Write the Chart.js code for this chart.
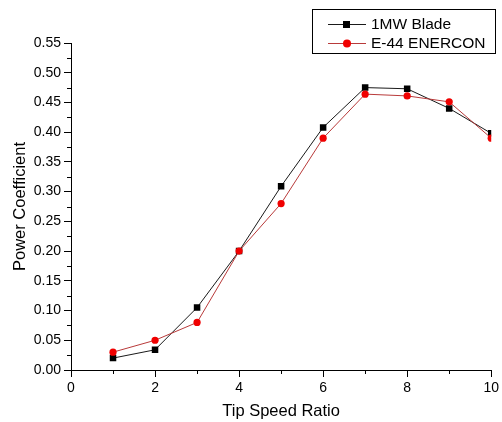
<!DOCTYPE html>
<html>
<head>
<meta charset="utf-8">
<script src="https://cdn.jsdelivr.net/npm/chart.js@4.4.1/dist/chart.umd.min.js"></script>
<style>
  body { margin: 0; background: #fff; }
  canvas { display: block; }
</style>
</head>
<body>
<canvas id="cpChart" width="502" height="422"></canvas>
<script>
// tip speed ratio vs power coefficient
const tsr = [1, 2, 3, 4, 5, 6, 7, 8, 9, 10];
const bladeCp = [0.020, 0.034, 0.105, 0.200, 0.309, 0.408, 0.475, 0.473, 0.440, 0.398];
const enerconCp = [0.030, 0.050, 0.080, 0.200, 0.280, 0.390, 0.464, 0.461, 0.451, 0.390];
const seriesNames = ['1MW Blade', 'E-44 ENERCON'];

const FONT = '"Liberation Sans", Arial, sans-serif';

// small outward minor ticks on both axes
const minorTicks = {
    id: 'minorTicks',
    afterDraw(chart) {
        const ctx = chart.ctx;
        const x = chart.scales.x, y = chart.scales.y;
        const area = chart.chartArea;
        ctx.save();
        ctx.strokeStyle = '#000';
        ctx.lineWidth = 1;
        ctx.beginPath();
        for (let v = 1; v < 10; v += 2) {
            const px = Math.round(x.getPixelForValue(v)) + 0.5;
            ctx.moveTo(px, area.bottom);
            ctx.lineTo(px, area.bottom + 4);
        }
        for (let i = 1; i < 22; i += 2) {
            const py = Math.round(y.getPixelForValue(i * 0.025)) + 0.5;
            ctx.moveTo(area.left, py);
            ctx.lineTo(area.left - 4, py);
        }
        ctx.stroke();
        ctx.restore();
    }
};

// boxed legend in the top right corner
const boxLegend = {
    id: 'boxLegend',
    afterDraw(chart) {
        const ctx = chart.ctx;
        ctx.save();
        ctx.strokeStyle = '#000';
        ctx.lineWidth = 1;
        ctx.strokeRect(312.5, 9.5, 183, 44);
        const rows = [24, 43];
        chart.data.datasets.forEach(function (ds, i) {
            const cy = rows[i];
            ctx.strokeStyle = ds.borderColor;
            ctx.beginPath();
            ctx.moveTo(328, cy + 0.5);
            ctx.lineTo(366, cy + 0.5);
            ctx.stroke();
            ctx.fillStyle = ds.pointBackgroundColor;
            if (ds.pointStyle === 'rect') {
                ctx.fillRect(343, cy - 3, 7, 7);
            } else {
                ctx.beginPath();
                ctx.arc(347, cy + 0.5, 4, 0, Math.PI * 2);
                ctx.fill();
            }
            ctx.fillStyle = '#000';
            ctx.font = '15.5px ' + FONT;
            ctx.textBaseline = 'middle';
            ctx.fillText(ds.label, 371, cy + 1);
        });
        ctx.restore();
    }
};

const ctx = document.getElementById('cpChart').getContext('2d');

new Chart(ctx, {
    type: 'line',
    data: {
        datasets: [{
            label: seriesNames[0],
            data: tsr.map((t, i) => ({ x: t, y: bladeCp[i] })),
            borderColor: '#1a1a1a',
            borderWidth: 1,
            pointStyle: 'rect',
            pointRadius: 4.6,
            pointBackgroundColor: '#000',
            pointBorderWidth: 0,
            order: 1,
            clip: 0
        }, {
            label: seriesNames[1],
            data: tsr.map((t, i) => ({ x: t, y: enerconCp[i] })),
            borderColor: '#b83a3a',
            borderWidth: 1,
            pointStyle: 'circle',
            pointRadius: 3.6,
            pointBackgroundColor: '#f00000',
            pointBorderWidth: 0,
            order: 0,
            clip: 0
        }]
    },
    options: {
        responsive: false,
        animation: false,
        layout: { padding: { top: 43, right: 9, left: 0, bottom: 0 } },
        plugins: {
            legend: { display: false },
            tooltip: { enabled: false }
        },
        scales: {
            x: {
                type: 'linear',
                min: 0,
                max: 10,
                afterFit: s => { s.height = 52; },
                grid: {
                    display: true,
                    drawOnChartArea: false,
                    tickLength: 7,
                    tickColor: '#000'
                },
                border: { color: '#000', width: 1 },
                ticks: {
                    stepSize: 2,
                    padding: 3,
                    color: '#000',
                    font: { family: FONT, size: 14 }
                },
                title: {
                    display: true,
                    text: 'Tip Speed Ratio',
                    color: '#000',
                    padding: { top: 0, bottom: 1 },
                    font: { family: FONT, size: 16.5 }
                }
            },
            y: {
                min: 0,
                max: 0.55,
                afterFit: s => { s.width = 71; },
                grid: {
                    display: true,
                    drawOnChartArea: false,
                    tickLength: 7,
                    tickColor: '#000'
                },
                border: { color: '#000', width: 1 },
                ticks: {
                    stepSize: 0.05,
                    padding: 3,
                    color: '#000',
                    font: { family: FONT, size: 14 },
                    callback: v => v.toFixed(2)
                },
                title: {
                    display: true,
                    text: 'Power Coefficient',
                    color: '#000',
                    padding: { top: 11, bottom: 0 },
                    font: { family: FONT, size: 16.5 }
                }
            }
        }
    },
    plugins: [minorTicks, boxLegend]
});
</script>
</body>
</html>
